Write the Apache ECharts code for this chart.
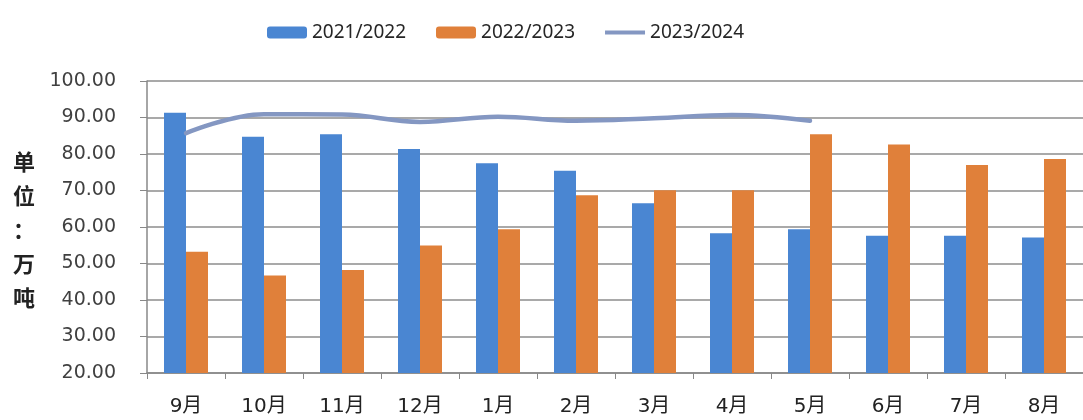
<!DOCTYPE html>
<html><head><meta charset="utf-8">
<script src="https://cdn.jsdelivr.net/npm/echarts@6/dist/echarts.min.js"></script>
<style>html,body{margin:0;padding:0;background:#fff}#c{width:1083px;height:420px}</style>
</head><body><div id="c"></div>
<script>
const categories = ['9月','10月','11月','12月','1月','2月','3月','4月','5月','6月','7月','8月'];
const s2122 = [91.3, 84.7, 85.4, 81.4, 77.5, 75.4, 66.5, 58.3, 59.4, 57.6, 57.6, 57.1];
const s2223 = [53.2, 46.7, 48.2, 54.9, 59.4, 68.7, 70.1, 70.1, 85.4, 82.6, 77.0, 78.6];
const s2324 = [85.7, 90.9, 90.8, 88.8, 90.2, 89.1, 89.8, 90.7, 89.1, null, null, null];
const seriesNames = ['2021/2022','2022/2023','2023/2024'];
const yMin = 20, yMax = 100, yStep = 10;

const font = "'Noto Sans','Noto Sans CJK SC',sans-serif";
const numFont = "'DejaVu Sans','Noto Sans CJK SC',sans-serif";
const chart = echarts.init(document.getElementById('c'));
chart.setOption({
  animation:false,
  textStyle:{fontFamily:font},
  legend:{top:18,left:262,itemWidth:40,itemHeight:12,itemGap:30,
    textStyle:{fontSize:19,color:'#262626',fontFamily:font},
    data:[
      {name:seriesNames[0]},
      {name:seriesNames[1]},
      {name:seriesNames[2],icon:'path://M0,0 M0,12 M0,4 L40,4 L40,8 L0,8 Z'}
    ]},
  grid:{left:147,right:0,top:81,bottom:47},
  xAxis:{type:'category',data:categories,
    axisLine:{lineStyle:{color:'#888',width:1.5}},
    axisTick:{show:true,length:6,alignWithLabel:false,lineStyle:{color:'#888'}},
    axisLabel:{fontSize:20,color:'#222',margin:24,fontFamily:numFont}},
  yAxis:{type:'value',min:yMin,max:yMax,interval:yStep,
    axisLine:{show:true,lineStyle:{color:'#888',width:1.5}},
    axisTick:{show:true,length:7,lineStyle:{color:'#888'}},
    splitLine:{lineStyle:{color:'#8c8c8c',width:1.5}},
    axisLabel:{fontSize:19,color:'#404040',margin:31,fontFamily:numFont,formatter:v=>v.toFixed(2)}},
  graphic:[{type:'text',left:13,top:145,style:{text:'单\n位\n：\n万\n吨',fontSize:22,fontWeight:'bold',lineHeight:34,fill:'#222',fontFamily:"'Noto Sans CJK SC'"}}],
  series:[
    {name:seriesNames[0],type:'bar',data:s2122,barWidth:22,barGap:'0%',itemStyle:{color:'#4a86d2'}},
    {name:seriesNames[1],type:'bar',data:s2223,barWidth:22,barGap:'0%',itemStyle:{color:'#e0803a'}},
    {name:seriesNames[2],type:'line',data:s2324,smooth:0.4,symbol:'none',
      lineStyle:{color:'#8497c2',width:4.5,cap:'round'},itemStyle:{color:'#8497c2'}}
  ]
});
</script></body></html>
